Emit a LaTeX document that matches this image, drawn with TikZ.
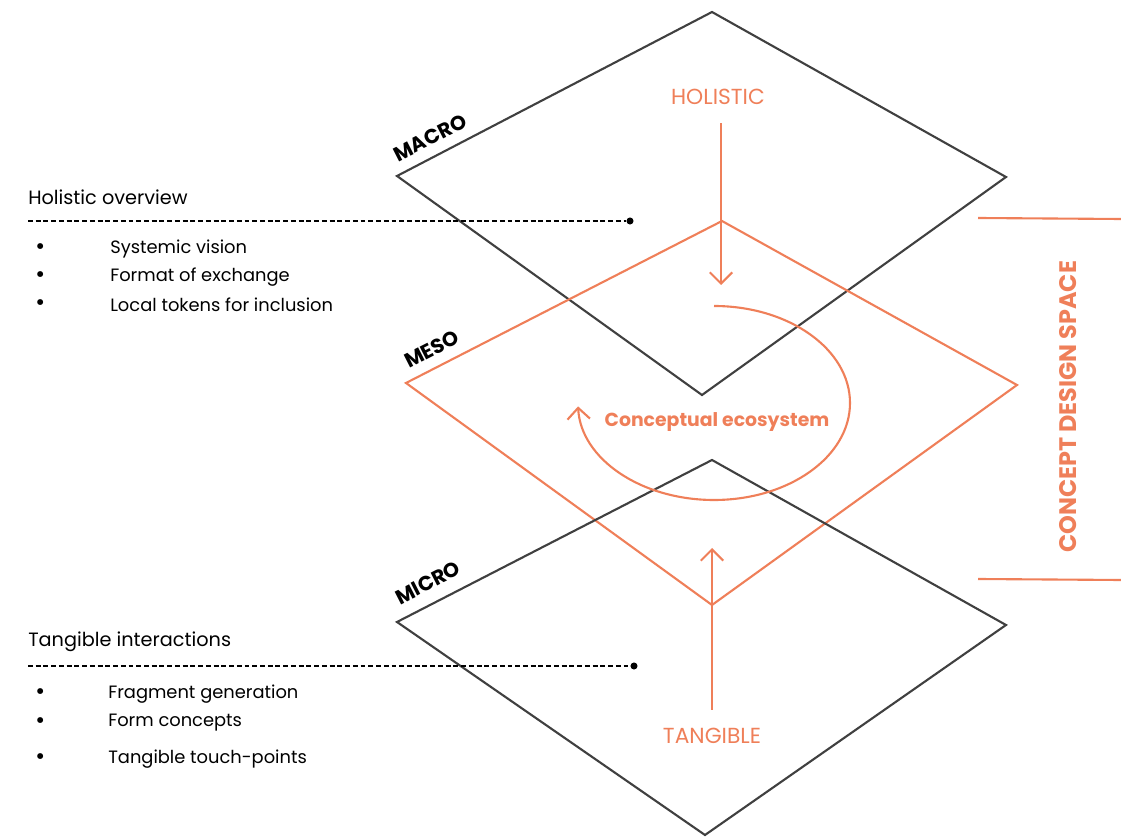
\documentclass[tikz,border=0pt]{standalone}
\usepackage{fontspec}
\setmainfont{Poppins}
\usetikzlibrary{positioning,arrows.meta}

\definecolor{lorange}{HTML}{EF7F59}
\definecolor{lgray}{HTML}{404040}

\tikzset{
    layer/.style={draw=lgray, line width=1.5pt},
    mesolayer/.style={draw=lorange, line width=1.5pt},
    levelname/.style={font=\bfseries\fontsize{14.5}{14.5}\selectfont, rotate=27, inner sep=0pt},
    flow/.style={draw=lorange, line width=1.5pt,
        -{Straight Barb[length=8pt,width=16pt,line width=1.5pt]}},
    flowlabel/.style={text=lorange, font=\fontsize{15.5}{15.5}\selectfont, inner sep=0pt},
    heading/.style={anchor=west, font=\fontsize{13.7}{13.7}\selectfont, inner sep=0pt},
    item/.style={anchor=west, font=\fontsize{12.7}{12.7}\selectfont, inner sep=0pt},
    leader/.style={dash pattern=on 3.5pt off 2pt, line width=1pt},
    dot/.style={circle, fill=black, inner sep=0pt, minimum size=5pt}
}

\begin{document}
\begin{tikzpicture}[x=0.025cm, y=-0.025cm]
    \useasboundingbox (0,0) rectangle (1121,839);

    % macro layer
    \draw[layer] (712,12) -- (1006,177) -- (702,395) -- (397,176) -- cycle;
    \node[levelname] (macro) at (430,138) {MACRO};

    % meso layer
    \draw[mesolayer] (722,221) -- (1017,385) -- (712,605) -- (406,383) -- cycle;
    \node[levelname] (meso) at (432,349) {MESO};

    % micro layer
    \draw[layer] (712,460) -- (1006,625) -- (705,835) -- (397,622) -- cycle;
    \node[levelname] (micro) at (428,583) {MICRO};

    % top-down and bottom-up flows
    \node[flowlabel] (holistic) at (718,97) {HOLISTIC};
    \coordinate (holend) at (721,285);
    \draw[flow] (holistic.south -| holend) ++(0,18) -- (holend);

    \node[flowlabel] (tangible) at (712,736) {TANGIBLE};
    \coordinate (tanend) at (712,548);
    \draw[flow] (tangible.north -| tanend) ++(0,-18) -- (tanend);

    % loop around the ecosystem
    \node[text=lorange, font=\bfseries\fontsize{13.4}{13.4}\selectfont, inner sep=0pt]
        (eco) at (717,422) {Conceptual ecosystem};
    \draw[flow] (714,306) arc[start angle=-90, end angle=178, x radius=136, y radius=97];

    % design space bracket
    \coordinate (spacetopa) at (978,218);
    \coordinate (spacetopb) at (1121,219);
    \coordinate (spacebota) at (978,579);
    \coordinate (spacebotb) at (1121,580);
    \draw[mesolayer] (spacetopa) -- (spacetopb);
    \draw[mesolayer] (spacebota) -- (spacebotb);
    \node[rotate=90, text=lorange, font=\bfseries\fontsize{17}{17}\selectfont, inner sep=0pt]
        (space) at (1068,407) {CONCEPT DESIGN SPACE};

    % holistic overview list
    \node[heading] (holhead) at (28,197) {Holistic overview};
    \coordinate (holstart) at (28,221);
    \node[dot] (holdot) at (630,221) {};
    \draw[leader] (holstart) -- (holdot);
    \foreach \y/\txt in {249/Systemic vision, 277/Format of exchange, 305/Local tokens for inclusion}{
        \node[item, font=\fontsize{17}{17}\selectfont] at (35,\y) {\textbullet};
        \node[item] at (110,\y) {\txt};
    }

    % tangible interactions list
    \node[heading] (tanhead) at (28,642) {Tangible interactions};
    \coordinate (tanstart) at (28,666);
    \node[dot] (tandot) at (634,666) {};
    \draw[leader] (tanstart) -- (tandot);
    \foreach \y/\txt in {694/Fragment generation, 723/Form concepts, 759/Tangible touch-points}{
        \node[item, font=\fontsize{17}{17}\selectfont] at (35,\y) {\textbullet};
        \node[item] at (108,\y) {\txt};
    }

\end{tikzpicture}
\end{document}
